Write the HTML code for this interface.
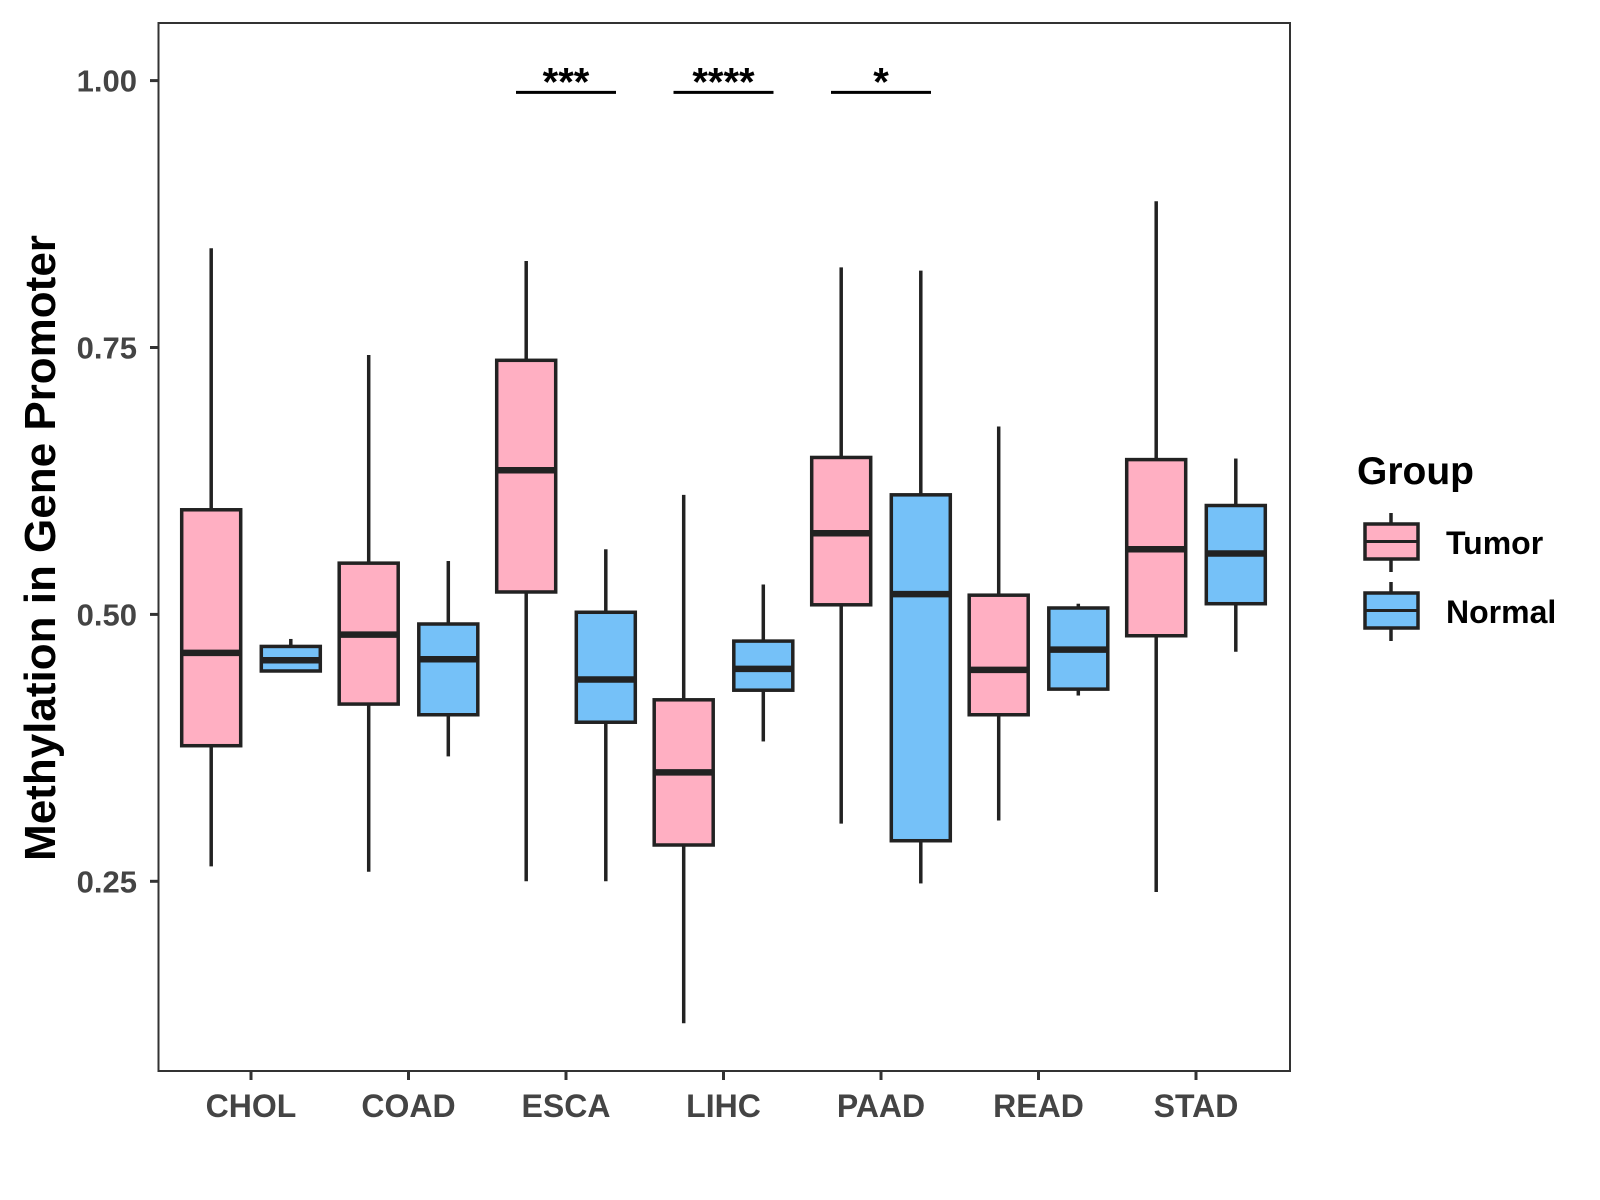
<!DOCTYPE html>
<html><head><meta charset="utf-8"><style>
html,body{margin:0;padding:0;background:#fff;}
svg{display:block;font-family:"Liberation Sans",Arial,sans-serif;font-weight:bold;}
</style></head><body>
<svg id="chart" width="1600" height="1200" viewBox="0 0 1600 1200" xmlns="http://www.w3.org/2000/svg">
<rect x="0" y="0" width="1600" height="1200" fill="#fff"/>
<g id="plot"></g>
<rect x="158.5" y="23" width="1131.5" height="1048" fill="none" stroke="#333" stroke-width="2"/>
<text x="0" y="0" transform="translate(55,548) rotate(-90)" text-anchor="middle" font-size="44" fill="#000">Methylation in Gene Promoter</text>
<text x="1357" y="484" font-size="39" fill="#000">Group</text>
<g>
<line x1="1391" y1="513" x2="1391" y2="572" stroke="#222" stroke-width="3.5"/>
<rect x="1365" y="524" width="53" height="35" fill="#FFAFC2" stroke="#222" stroke-width="3.5"/>
<line x1="1365" y1="541.5" x2="1418" y2="541.5" stroke="#222" stroke-width="3"/>
<text x="1446" y="554" font-size="32" fill="#000">Tumor</text>
</g>
<g>
<line x1="1391" y1="582" x2="1391" y2="641" stroke="#222" stroke-width="3.5"/>
<rect x="1365" y="593" width="53" height="35" fill="#75C1F8" stroke="#222" stroke-width="3.5"/>
<line x1="1365" y1="610.5" x2="1418" y2="610.5" stroke="#222" stroke-width="3"/>
<text x="1446" y="623" font-size="32" fill="#000">Normal</text>
</g>
</svg>
<script>
const categories = ["CHOL","COAD","ESCA","LIHC","PAAD","READ","STAD"];
const tumorLow = [0.264,0.259,0.250,0.117,0.304,0.307,0.240];
const tumorQ1  = [0.377,0.416,0.521,0.284,0.509,0.406,0.480];
const tumorMed = [0.464,0.481,0.635,0.352,0.576,0.448,0.561];
const tumorQ3  = [0.598,0.548,0.738,0.420,0.647,0.518,0.645];
const tumorHigh= [0.843,0.743,0.831,0.612,0.825,0.676,0.887];
const normalLow = [0.447,0.367,0.250,0.381,0.248,0.424,0.465];
const normalQ1  = [0.447,0.406,0.399,0.429,0.288,0.430,0.510];
const normalMed = [0.457,0.458,0.439,0.449,0.519,0.467,0.557];
const normalQ3  = [0.470,0.491,0.502,0.475,0.612,0.506,0.602];
const normalHigh= [0.477,0.550,0.561,0.528,0.822,0.510,0.646];
const yTicks = [0.25,0.50,0.75,1.00];
const yTickLabels = ["0.25","0.50","0.75","1.00"];
const sigCategories = ["ESCA","LIHC","PAAD"];
const sigLabels = ["***","****","*"];
const sigLevel = 0.989;

const NS="http://www.w3.org/2000/svg";
const svg=document.getElementById('chart');
const plot=document.getElementById('plot');
function y(v){return 80.6+(1-v)*1067.6;}
function x(i){return 251+157.5*i;}
function mk(tag,attrs,parent){const e=document.createElementNS(NS,tag);for(const k in attrs)e.setAttribute(k,attrs[k]);(parent||plot).appendChild(e);return e;}

yTicks.forEach((t,i)=>{
  const ln=mk('line',{x1:150,x2:158,y1:y(t),y2:y(t),stroke:'#333','stroke-width':3});
  
  
  const tx=mk('text',{x:137,y:y(t)+11,'text-anchor':'end','font-size':31,fill:'#444'});
  tx.textContent=yTickLabels[i];
  
  
});
categories.forEach((c,i)=>{
  const ln=mk('line',{x1:x(i),x2:x(i),y1:1071,y2:1080,stroke:'#333','stroke-width':3});
  
  
  const tx=mk('text',{x:x(i),y:1117,'text-anchor':'middle','font-size':32,fill:'#444'});
  tx.textContent=c;
  
  
});
function box(cx,lo,q1,md,q3,hi,fill,name){
  const g=mk('g',{});
  
  
  const w=59;
  mk('line',{x1:cx,x2:cx,y1:y(hi),y2:y(q3),stroke:'#222','stroke-width':3.5},g);
  mk('line',{x1:cx,x2:cx,y1:y(q1),y2:y(lo),stroke:'#222','stroke-width':3.5},g);
  mk('rect',{x:cx-w/2,y:y(q3),width:w,height:Math.max(1,y(q1)-y(q3)),fill:fill,stroke:'#222','stroke-width':3.5},g);
  mk('line',{x1:cx-w/2,x2:cx+w/2,y1:y(md),y2:y(md),stroke:'#222','stroke-width':6.5},g);
}
categories.forEach((c,i)=>{
  box(x(i)-39.8,tumorLow[i],tumorQ1[i],tumorMed[i],tumorQ3[i],tumorHigh[i],'#FFAFC2','box-tumor-'+c.toLowerCase());
  box(x(i)+39.8,normalLow[i],normalQ1[i],normalMed[i],normalQ3[i],normalHigh[i],'#75C1F8','box-normal-'+c.toLowerCase());
});
sigCategories.forEach((c,k)=>{
  const i=categories.indexOf(c);
  const ln=mk('line',{x1:x(i)-50,x2:x(i)+50,y1:y(sigLevel),y2:y(sigLevel),stroke:'#000','stroke-width':3});
  
  
  const tx=mk('text',{x:x(i),y:y(sigLevel)+3,'text-anchor':'middle','font-size':40,fill:'#000'});
  tx.textContent=sigLabels[k];
  
  
});
</script>
</body></html>
